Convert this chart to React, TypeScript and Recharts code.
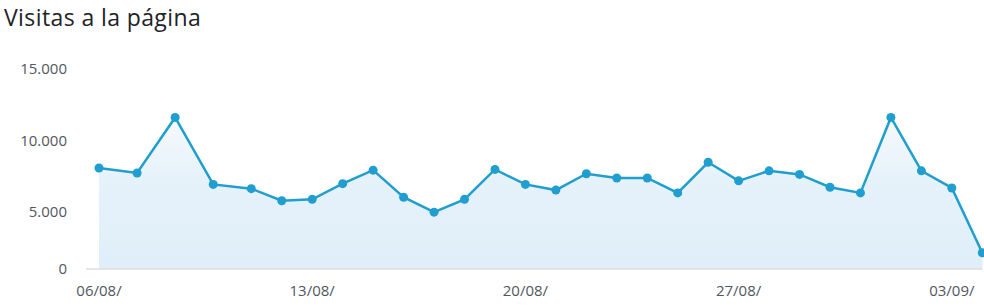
import React from 'react';
import { ComposedChart, Area, XAxis, YAxis } from 'recharts';

// Days since 06/08 for each sample (first samples are spaced irregularly in the reference)
const dayOffsets = [0, 1.25, 2.5, 3.75, 5, 6, 7, 8, 9, 10, 11, 12, 13, 14, 15, 16, 17, 18, 19, 20, 21, 22, 23, 24, 25, 26, 27, 28, 29];
const visits = [8050, 7700, 11600, 6900, 6600, 5750, 5850, 6950, 7900, 6000, 4950, 5850, 7950, 6900, 6500, 7650, 7350, 7350, 6300, 8450, 7150, 7850, 7600, 6700, 6300, 11600, 7850, 6650, 2100];

const xTickDays = [0, 7, 14, 21, 28];
const xTickLabels = ['06/08/', '13/08/', '20/08/', '27/08/', '03/09/'];

const yAxisMin = 960;
const yTickValues = [yAxisMin, 5000, 10000, 15000];
const yTickLabels = ['0', '5.000', '10.000', '15.000'];

const data = dayOffsets.map((day, i) => ({ day, visits: visits[i] }));

const FONT = '"Open Sans", "Noto Sans", sans-serif';
const LINE = '#1f9ecf';

export default function App() {
  return (
    <div style={{ position: 'absolute', left: 0, top: 0, width: 984, height: 307, overflow: 'hidden', background: '#fff' }}>
      <div
        style={{
          position: 'absolute',
          left: 4,
          top: 6,
          fontFamily: FONT,
          fontSize: 23,
          letterSpacing: '0.4px',
          lineHeight: '23px',
          color: '#1d2327',
          whiteSpace: 'nowrap',
          zIndex: 1,
        }}
      >
        Visitas a la página
      </div>
      <ComposedChart width={1000} height={307} data={data} margin={{ top: 69, right: 17.7, bottom: 0, left: 0 }}>
        <defs>
          <linearGradient id="visitsFill" x1="0" y1="0" x2="0" y2="1">
            <stop offset="0%" stopColor="#f5f9fd" />
            <stop offset="40%" stopColor="#e6f2fa" />
            <stop offset="100%" stopColor="#dfeef9" />
          </linearGradient>
        </defs>
        <XAxis
          dataKey="day"
          type="number"
          domain={[0, 29]}
          ticks={xTickDays}
          interval={0}
          tickFormatter={(v: number) => xTickLabels[xTickDays.indexOf(v)] ?? ''}
          height={38}
          padding={{ left: 13, right: 0 }}
          axisLine={{ stroke: '#dcdcde', strokeWidth: 1.5 }}
          tickLine={false}
          tickSize={0}
          tickMargin={16}
          tick={{ fill: '#50575e', fontSize: 15, fontFamily: FONT }}
        />
        <YAxis
          type="number"
          domain={[yAxisMin, 15000]}
          ticks={yTickValues}
          interval={0}
          tickFormatter={(v: number) => yTickLabels[yTickValues.indexOf(v)] ?? ''}
          width={86}
          axisLine={false}
          tickLine={false}
          tickSize={0}
          tickMargin={19}
          tick={{ fill: '#50575e', fontSize: 15, fontFamily: FONT }}
        />
        <Area
          type="linear"
          dataKey="visits"
          stroke={LINE}
          strokeWidth={2.5}
          fill="url(#visitsFill)"
          fillOpacity={1}
          dot={{ r: 4.5, fill: LINE, stroke: 'none' }}
          activeDot={false}
          isAnimationActive={false}
        />
      </ComposedChart>
    </div>
  );
}
